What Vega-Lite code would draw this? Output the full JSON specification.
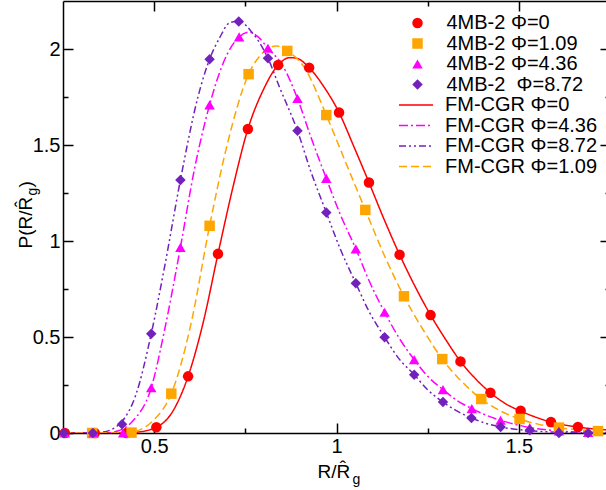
{
  "$schema": "https://vega.github.io/schema/vega-lite/v6.json",
  "width": 547,
  "height": 432,
  "autosize": "none",
  "padding": {"left": 63, "top": 1, "right": 0, "bottom": 57},
  "background": "white",
  "config": {
    "font": "Liberation Sans",
    "view": {"stroke": null},
    "axis": {
      "grid": false,
      "domainColor": "black",
      "tickColor": "black",
      "labelColor": "black",
      "titleColor": "black",
      "domainWidth": 1.5,
      "tickWidth": 1.5,
      "labelFont": "Liberation Sans",
      "titleFont": "Liberation Sans",
      "labelFontSize": 20,
      "titleFontWeight": "normal",
      "labelFlush": false,
      "labelOverlap": false
    },
    "legend": {
      "labelFont": "Liberation Sans",
      "labelFontSize": 20,
      "labelColor": "black",
      "padding": 0,
      "rowPadding": 0.5
    }
  },
  "datasets": {
    "pts": [
      {"x": 0.255, "y": 0, "s": "4MB-2 Φ=0"},
      {"x": 0.337, "y": 0, "s": "4MB-2 Φ=0"},
      {"x": 0.424, "y": 0, "s": "4MB-2 Φ=0"},
      {"x": 0.506, "y": 0.03, "s": "4MB-2 Φ=0"},
      {"x": 0.593, "y": 0.295, "s": "4MB-2 Φ=0"},
      {"x": 0.675, "y": 0.933, "s": "4MB-2 Φ=0"},
      {"x": 0.757, "y": 1.583, "s": "4MB-2 Φ=0"},
      {"x": 0.840, "y": 1.917, "s": "4MB-2 Φ=0"},
      {"x": 0.925, "y": 1.903, "s": "4MB-2 Φ=0"},
      {"x": 1.007, "y": 1.669, "s": "4MB-2 Φ=0"},
      {"x": 1.089, "y": 1.305, "s": "4MB-2 Φ=0"},
      {"x": 1.173, "y": 0.929, "s": "4MB-2 Φ=0"},
      {"x": 1.258, "y": 0.614, "s": "4MB-2 Φ=0"},
      {"x": 1.340, "y": 0.373, "s": "4MB-2 Φ=0"},
      {"x": 1.422, "y": 0.210, "s": "4MB-2 Φ=0"},
      {"x": 1.505, "y": 0.116, "s": "4MB-2 Φ=0"},
      {"x": 1.588, "y": 0.057, "s": "4MB-2 Φ=0"},
      {"x": 1.662, "y": 0.031, "s": "4MB-2 Φ=0"},
      {"x": 0.330, "y": 0, "s": "4MB-2 Φ=1.09"},
      {"x": 0.438, "y": 0.002, "s": "4MB-2 Φ=1.09"},
      {"x": 0.547, "y": 0.205, "s": "4MB-2 Φ=1.09"},
      {"x": 0.652, "y": 1.079, "s": "4MB-2 Φ=1.09"},
      {"x": 0.759, "y": 1.869, "s": "4MB-2 Φ=1.09"},
      {"x": 0.865, "y": 1.99, "s": "4MB-2 Φ=1.09"},
      {"x": 0.972, "y": 1.656, "s": "4MB-2 Φ=1.09"},
      {"x": 1.079, "y": 1.162, "s": "4MB-2 Φ=1.09"},
      {"x": 1.185, "y": 0.712, "s": "4MB-2 Φ=1.09"},
      {"x": 1.290, "y": 0.385, "s": "4MB-2 Φ=1.09"},
      {"x": 1.397, "y": 0.177, "s": "4MB-2 Φ=1.09"},
      {"x": 1.502, "y": 0.073, "s": "4MB-2 Φ=1.09"},
      {"x": 1.610, "y": 0.028, "s": "4MB-2 Φ=1.09"},
      {"x": 1.717, "y": 0.01, "s": "4MB-2 Φ=1.09"},
      {"x": 0.255, "y": 0, "s": "4MB-2 Φ=4.36"},
      {"x": 0.334, "y": 0, "s": "4MB-2 Φ=4.36"},
      {"x": 0.415, "y": 0, "s": "4MB-2 Φ=4.36"},
      {"x": 0.492, "y": 0.236, "s": "4MB-2 Φ=4.36"},
      {"x": 0.572, "y": 0.967, "s": "4MB-2 Φ=4.36"},
      {"x": 0.652, "y": 1.709, "s": "4MB-2 Φ=4.36"},
      {"x": 0.733, "y": 2.063, "s": "4MB-2 Φ=4.36"},
      {"x": 0.812, "y": 2.004, "s": "4MB-2 Φ=4.36"},
      {"x": 0.893, "y": 1.742, "s": "4MB-2 Φ=4.36"},
      {"x": 0.972, "y": 1.326, "s": "4MB-2 Φ=4.36"},
      {"x": 1.053, "y": 0.959, "s": "4MB-2 Φ=4.36"},
      {"x": 1.132, "y": 0.629, "s": "4MB-2 Φ=4.36"},
      {"x": 1.213, "y": 0.382, "s": "4MB-2 Φ=4.36"},
      {"x": 1.292, "y": 0.226, "s": "4MB-2 Φ=4.36"},
      {"x": 1.371, "y": 0.127, "s": "4MB-2 Φ=4.36"},
      {"x": 1.450, "y": 0.066, "s": "4MB-2 Φ=4.36"},
      {"x": 1.530, "y": 0.028, "s": "4MB-2 Φ=4.36"},
      {"x": 1.610, "y": 0.01, "s": "4MB-2 Φ=4.36"},
      {"x": 1.690, "y": 0.003, "s": "4MB-2 Φ=4.36"},
      {"x": 0.252, "y": 0, "s": "4MB-2 \u00a0Φ=8.72"},
      {"x": 0.332, "y": 0, "s": "4MB-2 \u00a0Φ=8.72"},
      {"x": 0.412, "y": 0.045, "s": "4MB-2 \u00a0Φ=8.72"},
      {"x": 0.492, "y": 0.517, "s": "4MB-2 \u00a0Φ=8.72"},
      {"x": 0.572, "y": 1.318, "s": "4MB-2 \u00a0Φ=8.72"},
      {"x": 0.652, "y": 1.947, "s": "4MB-2 \u00a0Φ=8.72"},
      {"x": 0.732, "y": 2.143, "s": "4MB-2 \u00a0Φ=8.72"},
      {"x": 0.812, "y": 1.952, "s": "4MB-2 \u00a0Φ=8.72"},
      {"x": 0.893, "y": 1.574, "s": "4MB-2 \u00a0Φ=8.72"},
      {"x": 0.972, "y": 1.149, "s": "4MB-2 \u00a0Φ=8.72"},
      {"x": 1.053, "y": 0.78, "s": "4MB-2 \u00a0Φ=8.72"},
      {"x": 1.132, "y": 0.499, "s": "4MB-2 \u00a0Φ=8.72"},
      {"x": 1.213, "y": 0.304, "s": "4MB-2 \u00a0Φ=8.72"},
      {"x": 1.292, "y": 0.161, "s": "4MB-2 \u00a0Φ=8.72"},
      {"x": 1.370, "y": 0.078, "s": "4MB-2 \u00a0Φ=8.72"},
      {"x": 1.450, "y": 0.031, "s": "4MB-2 \u00a0Φ=8.72"},
      {"x": 1.530, "y": 0.014, "s": "4MB-2 \u00a0Φ=8.72"},
      {"x": 1.610, "y": 0.0, "s": "4MB-2 \u00a0Φ=8.72"},
      {"x": 1.690, "y": 0.0, "s": "4MB-2 \u00a0Φ=8.72"}
    ],
    "lines": [
      {"x": 0.25, "y": 0, "s": "FM-CGR Φ=0"},
      {"x": 0.40, "y": 0, "s": "FM-CGR Φ=0"},
      {"x": 0.45, "y": 0.004, "s": "FM-CGR Φ=0"},
      {"x": 0.506, "y": 0.03, "s": "FM-CGR Φ=0"},
      {"x": 0.55, "y": 0.11, "s": "FM-CGR Φ=0"},
      {"x": 0.593, "y": 0.295, "s": "FM-CGR Φ=0"},
      {"x": 0.635, "y": 0.58, "s": "FM-CGR Φ=0"},
      {"x": 0.675, "y": 0.933, "s": "FM-CGR Φ=0"},
      {"x": 0.716, "y": 1.28, "s": "FM-CGR Φ=0"},
      {"x": 0.757, "y": 1.583, "s": "FM-CGR Φ=0"},
      {"x": 0.80, "y": 1.79, "s": "FM-CGR Φ=0"},
      {"x": 0.84, "y": 1.917, "s": "FM-CGR Φ=0"},
      {"x": 0.872, "y": 1.955, "s": "FM-CGR Φ=0"},
      {"x": 0.89, "y": 1.952, "s": "FM-CGR Φ=0"},
      {"x": 0.925, "y": 1.903, "s": "FM-CGR Φ=0"},
      {"x": 0.963, "y": 1.81, "s": "FM-CGR Φ=0"},
      {"x": 1.007, "y": 1.669, "s": "FM-CGR Φ=0"},
      {"x": 1.048, "y": 1.49, "s": "FM-CGR Φ=0"},
      {"x": 1.089, "y": 1.305, "s": "FM-CGR Φ=0"},
      {"x": 1.13, "y": 1.115, "s": "FM-CGR Φ=0"},
      {"x": 1.173, "y": 0.929, "s": "FM-CGR Φ=0"},
      {"x": 1.215, "y": 0.765, "s": "FM-CGR Φ=0"},
      {"x": 1.258, "y": 0.614, "s": "FM-CGR Φ=0"},
      {"x": 1.30, "y": 0.485, "s": "FM-CGR Φ=0"},
      {"x": 1.34, "y": 0.373, "s": "FM-CGR Φ=0"},
      {"x": 1.38, "y": 0.285, "s": "FM-CGR Φ=0"},
      {"x": 1.422, "y": 0.210, "s": "FM-CGR Φ=0"},
      {"x": 1.46, "y": 0.157, "s": "FM-CGR Φ=0"},
      {"x": 1.505, "y": 0.114, "s": "FM-CGR Φ=0"},
      {"x": 1.55, "y": 0.08, "s": "FM-CGR Φ=0"},
      {"x": 1.588, "y": 0.057, "s": "FM-CGR Φ=0"},
      {"x": 1.662, "y": 0.031, "s": "FM-CGR Φ=0"},
      {"x": 1.75, "y": 0.015, "s": "FM-CGR Φ=0"},
      {"x": 0.25, "y": 0, "s": "FM-CGR Φ=4.36"},
      {"x": 0.37, "y": 0, "s": "FM-CGR Φ=4.36"},
      {"x": 0.40, "y": 0.01, "s": "FM-CGR Φ=4.36"},
      {"x": 0.44, "y": 0.06, "s": "FM-CGR Φ=4.36"},
      {"x": 0.492, "y": 0.236, "s": "FM-CGR Φ=4.36"},
      {"x": 0.53, "y": 0.55, "s": "FM-CGR Φ=4.36"},
      {"x": 0.572, "y": 0.967, "s": "FM-CGR Φ=4.36"},
      {"x": 0.61, "y": 1.37, "s": "FM-CGR Φ=4.36"},
      {"x": 0.652, "y": 1.709, "s": "FM-CGR Φ=4.36"},
      {"x": 0.69, "y": 1.93, "s": "FM-CGR Φ=4.36"},
      {"x": 0.733, "y": 2.063, "s": "FM-CGR Φ=4.36"},
      {"x": 0.762, "y": 2.088, "s": "FM-CGR Φ=4.36"},
      {"x": 0.785, "y": 2.063, "s": "FM-CGR Φ=4.36"},
      {"x": 0.812, "y": 2.004, "s": "FM-CGR Φ=4.36"},
      {"x": 0.853, "y": 1.912, "s": "FM-CGR Φ=4.36"},
      {"x": 0.893, "y": 1.742, "s": "FM-CGR Φ=4.36"},
      {"x": 0.93, "y": 1.54, "s": "FM-CGR Φ=4.36"},
      {"x": 0.972, "y": 1.326, "s": "FM-CGR Φ=4.36"},
      {"x": 1.01, "y": 1.14, "s": "FM-CGR Φ=4.36"},
      {"x": 1.053, "y": 0.959, "s": "FM-CGR Φ=4.36"},
      {"x": 1.09, "y": 0.79, "s": "FM-CGR Φ=4.36"},
      {"x": 1.132, "y": 0.629, "s": "FM-CGR Φ=4.36"},
      {"x": 1.17, "y": 0.5, "s": "FM-CGR Φ=4.36"},
      {"x": 1.213, "y": 0.382, "s": "FM-CGR Φ=4.36"},
      {"x": 1.25, "y": 0.295, "s": "FM-CGR Φ=4.36"},
      {"x": 1.292, "y": 0.226, "s": "FM-CGR Φ=4.36"},
      {"x": 1.33, "y": 0.17, "s": "FM-CGR Φ=4.36"},
      {"x": 1.371, "y": 0.127, "s": "FM-CGR Φ=4.36"},
      {"x": 1.41, "y": 0.093, "s": "FM-CGR Φ=4.36"},
      {"x": 1.45, "y": 0.066, "s": "FM-CGR Φ=4.36"},
      {"x": 1.49, "y": 0.045, "s": "FM-CGR Φ=4.36"},
      {"x": 1.53, "y": 0.028, "s": "FM-CGR Φ=4.36"},
      {"x": 1.57, "y": 0.018, "s": "FM-CGR Φ=4.36"},
      {"x": 1.61, "y": 0.01, "s": "FM-CGR Φ=4.36"},
      {"x": 1.69, "y": 0.004, "s": "FM-CGR Φ=4.36"},
      {"x": 1.75, "y": 0.002, "s": "FM-CGR Φ=4.36"},
      {"x": 0.25, "y": 0, "s": "FM-CGR Φ=8.72"},
      {"x": 0.33, "y": 0, "s": "FM-CGR Φ=8.72"},
      {"x": 0.36, "y": 0.005, "s": "FM-CGR Φ=8.72"},
      {"x": 0.39, "y": 0.025, "s": "FM-CGR Φ=8.72"},
      {"x": 0.412, "y": 0.06, "s": "FM-CGR Φ=8.72"},
      {"x": 0.45, "y": 0.2, "s": "FM-CGR Φ=8.72"},
      {"x": 0.492, "y": 0.517, "s": "FM-CGR Φ=8.72"},
      {"x": 0.53, "y": 0.88, "s": "FM-CGR Φ=8.72"},
      {"x": 0.572, "y": 1.318, "s": "FM-CGR Φ=8.72"},
      {"x": 0.62, "y": 1.75, "s": "FM-CGR Φ=8.72"},
      {"x": 0.652, "y": 1.947, "s": "FM-CGR Φ=8.72"},
      {"x": 0.68, "y": 2.06, "s": "FM-CGR Φ=8.72"},
      {"x": 0.707, "y": 2.137, "s": "FM-CGR Φ=8.72"},
      {"x": 0.732, "y": 2.145, "s": "FM-CGR Φ=8.72"},
      {"x": 0.771, "y": 2.08, "s": "FM-CGR Φ=8.72"},
      {"x": 0.789, "y": 2.033, "s": "FM-CGR Φ=8.72"},
      {"x": 0.812, "y": 1.952, "s": "FM-CGR Φ=8.72"},
      {"x": 0.844, "y": 1.80, "s": "FM-CGR Φ=8.72"},
      {"x": 0.893, "y": 1.574, "s": "FM-CGR Φ=8.72"},
      {"x": 0.93, "y": 1.36, "s": "FM-CGR Φ=8.72"},
      {"x": 0.972, "y": 1.149, "s": "FM-CGR Φ=8.72"},
      {"x": 1.01, "y": 0.96, "s": "FM-CGR Φ=8.72"},
      {"x": 1.053, "y": 0.78, "s": "FM-CGR Φ=8.72"},
      {"x": 1.09, "y": 0.63, "s": "FM-CGR Φ=8.72"},
      {"x": 1.132, "y": 0.499, "s": "FM-CGR Φ=8.72"},
      {"x": 1.17, "y": 0.39, "s": "FM-CGR Φ=8.72"},
      {"x": 1.213, "y": 0.304, "s": "FM-CGR Φ=8.72"},
      {"x": 1.25, "y": 0.225, "s": "FM-CGR Φ=8.72"},
      {"x": 1.292, "y": 0.161, "s": "FM-CGR Φ=8.72"},
      {"x": 1.33, "y": 0.115, "s": "FM-CGR Φ=8.72"},
      {"x": 1.37, "y": 0.078, "s": "FM-CGR Φ=8.72"},
      {"x": 1.41, "y": 0.05, "s": "FM-CGR Φ=8.72"},
      {"x": 1.45, "y": 0.031, "s": "FM-CGR Φ=8.72"},
      {"x": 1.49, "y": 0.02, "s": "FM-CGR Φ=8.72"},
      {"x": 1.53, "y": 0.012, "s": "FM-CGR Φ=8.72"},
      {"x": 1.61, "y": 0.004, "s": "FM-CGR Φ=8.72"},
      {"x": 1.69, "y": 0.001, "s": "FM-CGR Φ=8.72"},
      {"x": 1.75, "y": 0, "s": "FM-CGR Φ=8.72"},
      {"x": 0.25, "y": 0, "s": "FM-CGR Φ=1.09"},
      {"x": 0.40, "y": 0, "s": "FM-CGR Φ=1.09"},
      {"x": 0.44, "y": 0.005, "s": "FM-CGR Φ=1.09"},
      {"x": 0.47, "y": 0.025, "s": "FM-CGR Φ=1.09"},
      {"x": 0.50, "y": 0.07, "s": "FM-CGR Φ=1.09"},
      {"x": 0.547, "y": 0.205, "s": "FM-CGR Φ=1.09"},
      {"x": 0.60, "y": 0.56, "s": "FM-CGR Φ=1.09"},
      {"x": 0.652, "y": 1.079, "s": "FM-CGR Φ=1.09"},
      {"x": 0.70, "y": 1.5, "s": "FM-CGR Φ=1.09"},
      {"x": 0.759, "y": 1.869, "s": "FM-CGR Φ=1.09"},
      {"x": 0.794, "y": 1.973, "s": "FM-CGR Φ=1.09"},
      {"x": 0.835, "y": 2.016, "s": "FM-CGR Φ=1.09"},
      {"x": 0.865, "y": 1.99, "s": "FM-CGR Φ=1.09"},
      {"x": 0.913, "y": 1.90, "s": "FM-CGR Φ=1.09"},
      {"x": 0.972, "y": 1.656, "s": "FM-CGR Φ=1.09"},
      {"x": 1.025, "y": 1.41, "s": "FM-CGR Φ=1.09"},
      {"x": 1.079, "y": 1.162, "s": "FM-CGR Φ=1.09"},
      {"x": 1.13, "y": 0.93, "s": "FM-CGR Φ=1.09"},
      {"x": 1.185, "y": 0.712, "s": "FM-CGR Φ=1.09"},
      {"x": 1.24, "y": 0.53, "s": "FM-CGR Φ=1.09"},
      {"x": 1.29, "y": 0.385, "s": "FM-CGR Φ=1.09"},
      {"x": 1.34, "y": 0.275, "s": "FM-CGR Φ=1.09"},
      {"x": 1.397, "y": 0.177, "s": "FM-CGR Φ=1.09"},
      {"x": 1.45, "y": 0.115, "s": "FM-CGR Φ=1.09"},
      {"x": 1.502, "y": 0.073, "s": "FM-CGR Φ=1.09"},
      {"x": 1.555, "y": 0.045, "s": "FM-CGR Φ=1.09"},
      {"x": 1.61, "y": 0.028, "s": "FM-CGR Φ=1.09"},
      {"x": 1.66, "y": 0.017, "s": "FM-CGR Φ=1.09"},
      {"x": 1.717, "y": 0.01, "s": "FM-CGR Φ=1.09"},
      {"x": 1.75, "y": 0.007, "s": "FM-CGR Φ=1.09"}
    ]
  },
  "resolve": {
    "scale": {"color": "independent", "shape": "independent", "strokeDash": "independent"},
    "axis": {"x": "independent", "y": "independent"}
  },
  "layer": [
    {
      "data": {"name": "lines"},
      "mark": {"type": "line", "interpolate": "monotone", "strokeWidth": 1.5, "clip": true},
      "encoding": {
        "x": {
          "field": "x", "type": "quantitative",
          "scale": {"domain": [0.25, 1.75], "nice": false, "zero": false},
          "axis": {
            "orient": "bottom", "values": [0.5, 1, 1.5], "format": "~g",
            "tickSize": -10, "labelPadding": 13,
            "title": "R/R̂", "titleFontSize": 19, "titleX": 254, "titleY": 44,
            "titleAlign": "left", "titleBaseline": "alphabetic"
          }
        },
        "y": {
          "field": "y", "type": "quantitative",
          "scale": {"domain": [0, 2.25], "nice": false, "zero": false},
          "axis": {
            "orient": "left", "values": [0, 0.5, 1, 1.5, 2], "format": "~g",
            "tickSize": -10, "labelPadding": 13,
            "title": "P(R/R̂", "titleFontSize": 19, "titleAngle": 270,
            "titleX": -32, "titleY": 247, "titleAlign": "left", "titleBaseline": "alphabetic"
          }
        },
        "color": {
          "field": "s", "type": "nominal",
          "scale": {
            "domain": ["FM-CGR Φ=0", "FM-CGR Φ=4.36", "FM-CGR Φ=8.72", "FM-CGR Φ=1.09"],
            "range": ["#ff0000", "#ff00ff", "#7221bc", "#ffa500"]
          },
          "legend": {
            "orient": "none", "legendX": 335, "legendY": 94, "title": null,
            "symbolType": "stroke", "symbolSize": 1156, "symbolStrokeWidth": 1.5,
            "labelOffset": 11, "symbolOffset": 0, "rowPadding": 0.5, "clipHeight": 20
          }
        },
        "strokeDash": {
          "field": "s", "type": "nominal",
          "scale": {
            "domain": ["FM-CGR Φ=0", "FM-CGR Φ=4.36", "FM-CGR Φ=8.72", "FM-CGR Φ=1.09"],
            "range": [[1, 0], [9, 3, 2, 3], [7, 3, 2, 3, 2, 3], [8, 4]]
          },
          "legend": {
            "orient": "none", "legendX": 335, "legendY": 94, "title": null,
            "symbolType": "stroke", "symbolSize": 1156, "symbolStrokeWidth": 1.5,
            "labelOffset": 11, "symbolOffset": 0, "rowPadding": 0.5, "clipHeight": 20
          }
        }
      }
    },
    {
      "data": {"name": "pts"},
      "mark": {"type": "point", "filled": true, "opacity": 1, "strokeWidth": 0, "size": 110},
      "encoding": {
        "x": {
          "field": "x", "type": "quantitative",
          "scale": {"domain": [0.25, 1.75], "nice": false, "zero": false},
          "axis": {
            "orient": "bottom", "values": [0.75, 1.25], "labels": false, "domain": false,
            "tickSize": -5,
            "title": "g", "titleFontSize": 14, "titleX": 289, "titleY": 50,
            "titleAlign": "left", "titleBaseline": "alphabetic"
          }
        },
        "y": {
          "field": "y", "type": "quantitative",
          "scale": {"domain": [0, 2.25], "nice": false, "zero": false},
          "axis": {
            "orient": "left", "values": [0.25, 0.75, 1.25, 1.75], "labels": false, "domain": false,
            "tickSize": -5,
            "title": "g", "titleFontSize": 14, "titleAngle": 270,
            "titleX": -27, "titleY": 194, "titleAlign": "left", "titleBaseline": "alphabetic"
          }
        },
        "color": {
          "field": "s", "type": "nominal",
          "scale": {
            "domain": ["4MB-2 Φ=0", "4MB-2 Φ=1.09", "4MB-2 Φ=4.36", "4MB-2 \u00a0Φ=8.72"],
            "range": ["#ff0000", "#ffa500", "#ff00ff", "#7221bc"]
          },
          "legend": {
            "orient": "none", "legendX": 340, "legendY": 12, "title": null,
            "symbolSize": 110, "symbolStrokeWidth": 0, "labelOffset": 19, "symbolOffset": 4.5,
            "clipHeight": 20
          }
        },
        "shape": {
          "field": "s", "type": "nominal",
          "scale": {
            "domain": ["4MB-2 Φ=0", "4MB-2 Φ=1.09", "4MB-2 Φ=4.36", "4MB-2 \u00a0Φ=8.72"],
            "range": ["circle", "square", "triangle-up", "diamond"]
          },
          "legend": {
            "orient": "none", "legendX": 340, "legendY": 12, "title": null,
            "symbolSize": 110, "symbolStrokeWidth": 0, "labelOffset": 19, "symbolOffset": 4.5,
            "clipHeight": 20
          }
        }
      }
    },
    {
      "data": {"name": "pts"},
      "mark": {"type": "point", "opacity": 0},
      "encoding": {
        "x": {
          "field": "x", "type": "quantitative",
          "scale": {"domain": [0.25, 1.75], "nice": false, "zero": false},
          "axis": {"orient": "top", "values": [0.5, 1, 1.5], "labels": false, "tickSize": -10, "title": null}
        },
        "y": {
          "field": "y", "type": "quantitative",
          "scale": {"domain": [0, 2.25], "nice": false, "zero": false},
          "axis": {
            "orient": "right", "values": [0, 0.5, 1, 1.5, 2], "labels": false, "tickSize": -10,
            "title": ")", "titleFontSize": 19, "titleAngle": 270,
            "titleX": -579, "titleY": 186, "titleAlign": "left", "titleBaseline": "alphabetic"
          }
        }
      }
    },
    {
      "data": {"name": "pts"},
      "mark": {"type": "point", "opacity": 0},
      "encoding": {
        "x": {
          "field": "x", "type": "quantitative",
          "scale": {"domain": [0.25, 1.75], "nice": false, "zero": false},
          "axis": {"orient": "top", "values": [0.75, 1.25], "labels": false, "domain": false, "tickSize": -5, "title": null}
        },
        "y": {
          "field": "y", "type": "quantitative",
          "scale": {"domain": [0, 2.25], "nice": false, "zero": false},
          "axis": {"orient": "right", "values": [0.25, 0.75, 1.25, 1.75], "labels": false, "domain": false, "tickSize": -5, "title": null}
        }
      }
    }
  ]
}
